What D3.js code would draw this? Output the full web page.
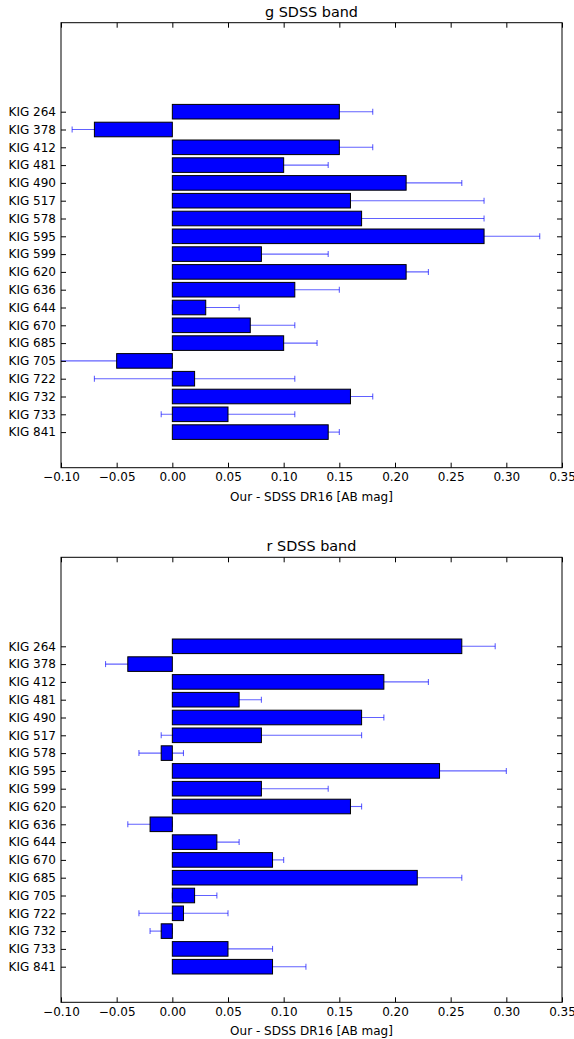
<!DOCTYPE html>
<html>
<head>
<meta charset="utf-8">
<script src="https://cdn.jsdelivr.net/npm/d3@7"></script>
<style>
  body { margin: 0; background: #fff; }
  svg { display: block; }
  text { font-family: "DejaVu Sans", sans-serif; fill: #000; }
</style>
</head>
<body>
<svg id="fig" width="574" height="1039"></svg>
<script>
// Galaxies, top to bottom
const galaxies = ["KIG 264", "KIG 378", "KIG 412", "KIG 481", "KIG 490", "KIG 517",
  "KIG 578", "KIG 595", "KIG 599", "KIG 620", "KIG 636", "KIG 644", "KIG 670",
  "KIG 685", "KIG 705", "KIG 722", "KIG 732", "KIG 733", "KIG 841"];

// Magnitude differences (ours minus SDSS DR16) and their uncertainties
const gValues = [0.15, -0.07, 0.15, 0.10, 0.21, 0.16, 0.17, 0.28, 0.08, 0.21,
  0.11, 0.03, 0.07, 0.10, -0.05, 0.02, 0.16, 0.05, 0.14];
const gErrors = [0.03, 0.02, 0.03, 0.04, 0.05, 0.12, 0.11, 0.05, 0.06, 0.02,
  0.04, 0.03, 0.04, 0.03, 0.05, 0.09, 0.02, 0.06, 0.01];

const rValues = [0.26, -0.04, 0.19, 0.06, 0.17, 0.08, -0.01, 0.24, 0.08, 0.16,
  -0.02, 0.04, 0.09, 0.22, 0.02, 0.01, -0.01, 0.05, 0.09];
const rErrors = [0.03, 0.02, 0.04, 0.02, 0.02, 0.09, 0.02, 0.06, 0.06, 0.01,
  0.02, 0.02, 0.01, 0.04, 0.02, 0.04, 0.01, 0.04, 0.03];

const xTicks = [-0.10, -0.05, 0.00, 0.05, 0.10, 0.15, 0.20, 0.25, 0.30, 0.35];
const xDomain = [-0.10, 0.35];
const xLabel = "Our - SDSS DR16 [AB mag]";

const panels = [
  { title: "g SDSS band", values: gValues, errors: gErrors, top: 22.7 },
  { title: "r SDSS band", values: rValues, errors: rErrors, top: 557.3 }
];

const svg = d3.select("#fig");
const left = 61, right = 562, plotH = 445;
const barFrac = 0.82, capHalf = 3, tickLen = 5;

const x = d3.scaleLinear().domain(xDomain).range([left, right]);

panels.forEach(p => {
  const top = p.top, bottom = top + plotH;
  const y = d3.scaleLinear().domain([-5, 20]).range([top, bottom]);
  const yBand = d3.scaleOrdinal().domain(galaxies).range(galaxies.map((_, i) => y(i)));
  const barH = (y(1) - y(0)) * barFrac;
  const rows = galaxies.map((name, i) => ({ name, v: p.values[i], e: p.errors[i] }));

  const g = svg.append("g");

  // error bars (drawn beneath the bars)
  const eb = g.append("g")
    .attr("stroke", "#0000ff").attr("stroke-opacity", 0.62).attr("stroke-width", 1.1);
  eb.selectAll("line.span").data(rows).join("line")
    .attr("x1", d => Math.max(left, x(d.v - d.e))).attr("x2", d => x(d.v + d.e))
    .attr("y1", d => yBand(d.name)).attr("y2", d => yBand(d.name));
  eb.selectAll("line.capL").data(rows.filter(d => x(d.v - d.e) > left + 0.5)).join("line")
    .attr("x1", d => x(d.v - d.e)).attr("x2", d => x(d.v - d.e))
    .attr("y1", d => yBand(d.name) - capHalf).attr("y2", d => yBand(d.name) + capHalf);
  eb.selectAll("line.capR").data(rows).join("line")
    .attr("x1", d => x(d.v + d.e)).attr("x2", d => x(d.v + d.e))
    .attr("y1", d => yBand(d.name) - capHalf).attr("y2", d => yBand(d.name) + capHalf);

  // bars
  g.append("g").selectAll("rect").data(rows).join("rect")
    .attr("x", d => x(Math.min(0, d.v)))
    .attr("width", d => Math.abs(x(d.v) - x(0)))
    .attr("y", d => yBand(d.name) - barH / 2)
    .attr("height", barH)
    .attr("fill", "#0000ff").attr("stroke", "#000").attr("stroke-width", 1);

  // axes with inward ticks on all four sides
  const styleAxis = sel => {
    sel.select(".domain").remove();
    sel.selectAll(".tick line").attr("stroke", "#000");
    sel.selectAll(".tick text").attr("font-size", 12).attr("fill", "#000");
  };
  g.append("g").attr("transform", `translate(0,${bottom})`)
    .call(d3.axisBottom(x).tickValues(xTicks).tickFormat(d3.format(".2f"))
      .tickSize(-tickLen).tickPadding(5))
    .call(styleAxis).attr("font-family", null);
  g.append("g").attr("transform", `translate(0,${top})`)
    .call(d3.axisTop(x).tickValues(xTicks).tickFormat("").tickSize(-tickLen))
    .call(styleAxis);
  g.append("g").attr("transform", `translate(${left},0)`)
    .call(d3.axisLeft(yBand).tickSize(-tickLen).tickPadding(5))
    .call(styleAxis).attr("font-family", null);
  g.append("g").attr("transform", `translate(${right},0)`)
    .call(d3.axisRight(yBand).tickSize(-tickLen).tickFormat(""))
    .call(styleAxis);

  // frame
  g.append("rect")
    .attr("x", left).attr("y", top).attr("width", right - left).attr("height", plotH)
    .attr("fill", "none").attr("stroke", "#000").attr("stroke-width", 1);

  // title and x label
  g.append("text").attr("x", (left + right) / 2).attr("y", top - 6)
    .attr("text-anchor", "middle").attr("font-size", 14.4).text(p.title);
  g.append("text").attr("x", (left + right) / 2).attr("y", bottom + 33)
    .attr("text-anchor", "middle").attr("font-size", 12).text(xLabel);
});
</script>
</body>
</html>
